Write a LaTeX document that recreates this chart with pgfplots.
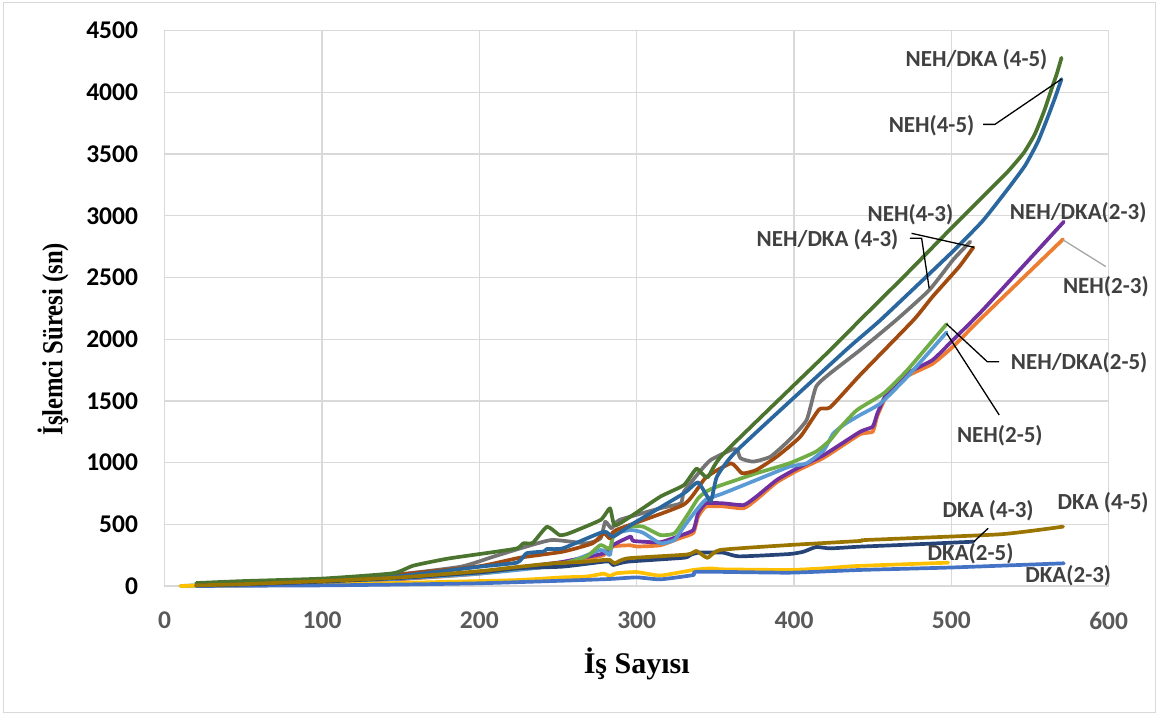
\documentclass[border=0pt]{standalone}
\usepackage{fontspec}
\setmainfont{Carlito}
\newfontfamily\timesf{Liberation Serif}
\usepackage{pgfplots}
\pgfplotsset{compat=1.18}
\definecolor{gridc}{HTML}{D9D9D9}
\definecolor{framec}{HTML}{D9D9D9}
\definecolor{xtc}{HTML}{595959}
\definecolor{lblc}{HTML}{404040}
\definecolor{cDG}{HTML}{4B742F}
\definecolor{cDB}{HTML}{2B679F}
\definecolor{cGR}{HTML}{747474}
\definecolor{cBR}{HTML}{A24B10}
\definecolor{cOR}{HTML}{ED7D31}
\definecolor{cPU}{HTML}{7030A0}
\definecolor{cLB}{HTML}{5B9BD5}
\definecolor{cLG}{HTML}{70AD47}
\definecolor{cBL}{HTML}{4472C4}
\definecolor{cGO}{HTML}{FFC000}
\definecolor{cNV}{HTML}{264478}
\definecolor{cOL}{HTML}{9A7600}
\tikzset{lbl/.style={font=\fontsize{23bp}{23bp}\selectfont\bfseries, text=lblc, inner sep=0pt}}
\begin{document}
\begin{tikzpicture}
\path[use as bounding box] (-164.7bp,-128bp) rectangle (994.3bp,586bp);
\draw[color=framec, line width=1bp] (-160.7bp,-126bp) rectangle (990.3bp,583bp);
\begin{axis}[
  scale only axis, width=944bp, height=555.3bp,
  xmin=0, xmax=600, ymin=0, ymax=4500,
  xtick={0,100,...,600}, ytick={0,500,...,4500},
  grid=major, major grid style={color=gridc, line width=1.3bp},
  axis line style={color=gridc, line width=1.3bp},
  major tick length=0pt,
  /pgf/number format/assume math mode=true,
  /pgf/number format/set thousands separator={},
  yticklabel style={font=\fontsize{25.5bp}{25.5bp}\selectfont\bfseries, text=black, inner sep=0pt, xshift=-26.5bp},
  xticklabel style={font=\fontsize{25.5bp}{25.5bp}\selectfont\bfseries, text=xtc, inner sep=0pt, yshift=-25.5bp},
  clip=false,
  every axis plot/.append style={line width=3.7bp, line join=round, line cap=round, smooth, tension=0.3},
]
% NEH(2-3)
\addplot[cOR] coordinates {(20,3)(50,10)(100,30)(150,55)(200,100)(250,180)(264,210)(279,250)(285,320)(296,330)(300,320)(315,330)(328,390)(336,430)(339,560)(344,643)(355,645)(368,630)(376,700)(389,840)(402,935)(419,1040)(442,1230)(450,1250)(453,1380)(459,1540)(472,1700)(488,1800)(501,1939)(520,2182)(571,2810)};
% NEH/DKA(2-3)
\addplot[cPU] coordinates {(20,3)(50,10)(100,30)(150,60)(200,110)(250,190)(264,224)(279,265)(285,332)(296,400)(298,365)(315,355)(328,410)(336,454)(339,589)(344,670)(355,670)(368,656)(376,724)(389,859)(402,954)(419,1062)(442,1250)(450,1291)(453,1400)(459,1561)(472,1724)(488,1831)(501,1993)(520,2237)(571.5,2952)};
% NEH(2-5)
\addplot[cLB] coordinates {(10,0)(20,3)(50,12)(100,30)(150,60)(200,100)(251,170)(277,292)(283,251)(285,413)(296,454)(304,432)(315,346)(324,373)(330,481)(338,616)(344,700)(355,751)(376,859)(397,967)(408,994)(419,1102)(425,1237)(433,1318)(442,1386)(455,1480)(472,1696)(497,2056)};
% NEH/DKA(2-5)
\addplot[cLG] coordinates {(10,0)(20,5)(50,15)(100,35)(150,70)(200,110)(251,180)(268,238)(277,332)(283,300)(286,440)(296,481)(304,481)(315,413)(324,427)(332,570)(339,710)(344,764)(351,805)(376,913)(397,994)(414,1089)(423,1183)(429,1278)(440,1426)(457,1561)(472,1750)(497,2123)};
% NEH(4-3)
\addplot[cGR] coordinates {(20,10)(50,25)(100,55)(145,89)(188,156)(209,238)(226,305)(246,373)(268,346)(277,386)(280,521)(284,467)(289,535)(315,630)(328,670)(330,764)(340,926)(347,1021)(361,1108)(364,1100)(366,1035)(374,1008)(385,1048)(397,1183)(408,1345)(414,1615)(423,1724)(442,1912)(465,2156)(486,2399)(501,2642)(512,2790)};
% NEH/DKA(4-3)
\addplot[cBR] coordinates {(20,8)(50,22)(100,50)(150,95)(200,160)(226,230)(253,278)(272,346)(279,427)(283,386)(287,454)(330,660)(344,880)(360,994)(367,913)(376,940)(389,1048)(404,1210)(416,1432)(423,1448)(442,1710)(476,2156)(488,2344)(505,2588)(514,2745)};
% NEH(4-5)
\addplot[cDB] coordinates {(20,5)(50,20)(100,45)(145,75)(200,156)(224,190)(230,265)(241,280)(243,300)(253,305)(279,440)(285,400)(298,508)(330,751)(339,840)(347,690)(351,886)(364,1102)(433,1912)(455,2156)(500,2700)(520,2960)(537,3236)(547,3410)(555,3600)(561,3790)(566,3960)(570,4108)};
% NEH/DKA(4-5)
\addplot[cDG] coordinates {(20,24)(50,40)(100,60)(145,103)(158,165)(180,222)(209,275)(224,305)(228,346)(234,350)(243,480)(251,413)(257,427)(277,535)(283,630)(286,490)(296,562)(315,724)(330,818)(338,950)(345,880)(355,1070)(423,1912)(442,2156)(470,2510)(500,2900)(522,3180)(536,3360)(546,3510)(553,3660)(559,3850)(564,4040)(567,4150)(570,4281)};
% DKA(2-5)
\addplot[cGO] coordinates {(10,0)(20,2)(50,5)(100,12)(150,25)(200,40)(226,49)(253,70)(268,76)(279,100)(283,81)(287,103)(300,113)(315,85)(336,130)(347,143)(355,135)(397,130)(419,143)(440,162)(498,189)};
% DKA(2-3)
\addplot[cBL] coordinates {(20,0)(50,2)(100,5)(150,12)(200,22)(253,43)(283,57)(300,70)(315,54)(336,89)(339,116)(397,108)(442,130)(500,150)(571.5,184)};
% DKA(4-3)
\addplot[cNV] coordinates {(20,5)(50,12)(100,35)(150,65)(200,110)(226,145)(253,157)(279,197)(283,197)(285,170)(294,197)(330,229)(334,251)(339,270)(355,270)(365,240)(397,259)(406,278)(414,316)(423,305)(442,319)(467,332)(514,359)};
% DKA(4-5)
\addplot[cOL] coordinates {(20,5)(50,15)(100,40)(150,70)(200,120)(226,157)(247,184)(268,197)(279,211)(283,211)(286,184)(294,224)(332,255)(338,284)(345,228)(353,292)(397,332)(442,365)(446,373)(531,419)(571,481)};
% leader lines
\draw[black, line width=1.3bp] (axis cs:520.2,3741) -- (axis cs:527.7,3741) -- (axis cs:570,4108);
\draw[black, line width=1.3bp] (axis cs:474.7,2858) -- (axis cs:514.3,2745);
\draw[black, line width=1.3bp] (axis cs:473.6,2818) -- (axis cs:481.1,2818) -- (axis cs:485.9,2412);
\draw[color=black!35, line width=1.3bp] (axis cs:571.1,2804) -- (axis cs:598.2,2588);
\draw[black, line width=1.3bp] (axis cs:497,2123) -- (axis cs:522.8,1818) -- (axis cs:530.4,1818);
\draw[black, line width=1.3bp] (axis cs:497,2048) -- (axis cs:530.4,1386);
\draw[black, line width=1.3bp] (axis cs:523.4,468) -- (axis cs:514.3,359);
% labels
\node[lbl] at (axis cs:516,4263) {NEH/DKA (4-5)};
\node[lbl] at (axis cs:487.4,3728) {NEH(4-5)};
\node[lbl] at (axis cs:474,3006) {NEH(4-3)};
\node[lbl] at (axis cs:421.3,2804) {NEH/DKA (4-3)};
\node[lbl] at (axis cs:580.6,3025) {NEH/DKA(2-3)};
\node[lbl] at (axis cs:598.2,2425) {NEH(2-3)};
\node[lbl] at (axis cs:581.2,1810) {NEH/DKA(2-5)};
\node[lbl] at (axis cs:530.8,1216) {NEH(2-5)};
\node[lbl] at (axis cs:523.4,610) {DKA (4-3)};
\node[lbl] at (axis cs:596.5,675) {DKA (4-5)};
\node[lbl] at (axis cs:512.2,265) {DKA(2-5)};
\node[lbl] at (axis cs:574.3,81) {DKA(2-3)};
% axis titles
\node[font=\timesf\bfseries\fontsize{30bp}{30bp}\selectfont, inner sep=0pt, anchor=base] at (axis cs:300,-707) {İş Sayısı};
\node[font=\timesf\bfseries\fontsize{29bp}{29bp}\selectfont, inner sep=0pt, rotate=90] at (axis cs:-71,2000) {\scalebox{0.85}[1]{İşlemci Süresi (sn)}};
\end{axis}
\end{tikzpicture}
\end{document}
